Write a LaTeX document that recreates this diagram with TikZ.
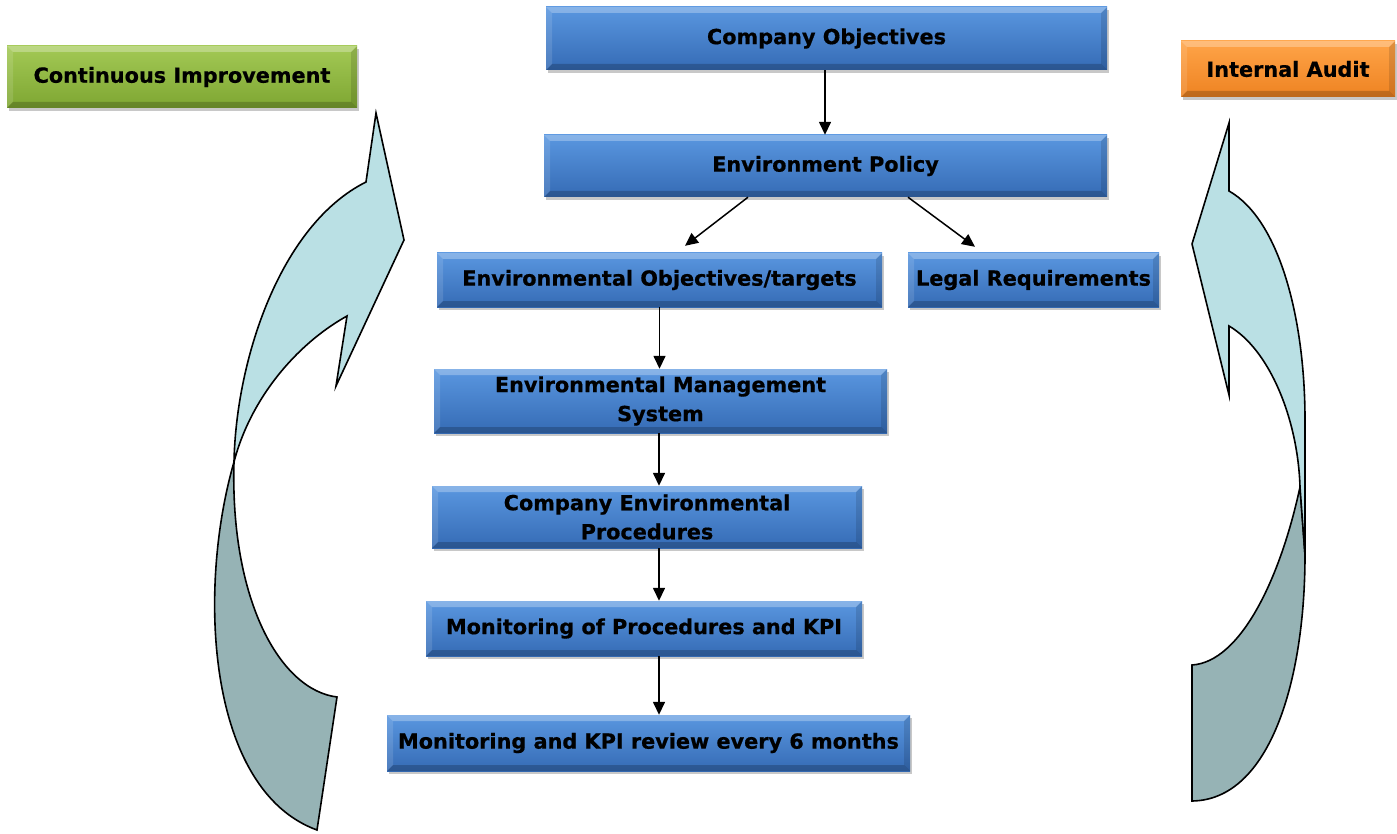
\documentclass[tikz,border=0pt]{standalone}
\usepackage{fontspec}
\setmainfont{DejaVu Sans}
\newfontfamily\boxfont{DejaVu Sans}[UprightFont=*-Bold, FakeBold=0.6]
\usetikzlibrary{arrows.meta,shadows,calc}
\definecolor{blueT}{HTML}{5A97E0}
\definecolor{blueB}{HTML}{356BB5}
\definecolor{greenT}{HTML}{A3C955}
\definecolor{greenB}{HTML}{7EA632}
\definecolor{orangeT}{HTML}{FFA448}
\definecolor{orangeB}{HTML}{EE8322}
\definecolor{ribbonL}{HTML}{BAE0E4}
\definecolor{ribbonD}{HTML}{96B3B5}
\tikzset{
  bevelbox/.style 2 args={
    inner sep=0pt, align=center, text=black,
    font=\boxfont\fontsize{20.8}{29}\selectfont,
    top color=#1, bottom color=#2, draw=none,
    drop shadow={shadow xshift=2pt, shadow yshift=-3pt, opacity=0.3, fill=black!70},
    path picture={
      \coordinate (pnw) at (path picture bounding box.north west);
      \coordinate (pne) at (path picture bounding box.north east);
      \coordinate (psw) at (path picture bounding box.south west);
      \coordinate (pse) at (path picture bounding box.south east);
      \fill[white,opacity=0.28] (pnw) -- (pne) -- ([shift={(-6pt,-6pt)}]pne) -- ([shift={(6pt,-6pt)}]pnw) -- cycle;
      \fill[white,opacity=0.12] (pnw) -- (psw) -- ([shift={(6pt,6pt)}]psw) -- ([shift={(6pt,-6pt)}]pnw) -- cycle;
      \fill[black,opacity=0.20] (psw) -- (pse) -- ([shift={(-6pt,6pt)}]pse) -- ([shift={(6pt,6pt)}]psw) -- cycle;
      \fill[black,opacity=0.12] (pne) -- (pse) -- ([shift={(-6pt,6pt)}]pse) -- ([shift={(-6pt,-6pt)}]pne) -- cycle;
    }
  },
  bluebox/.style={bevelbox={blueT}{blueB}},
  greenbox/.style={bevelbox={greenT}{greenB}},
  orangebox/.style={bevelbox={orangeT}{orangeB}},
  flow/.style={line width=1.5pt, -{Triangle[length=13pt,width=12pt]}},
  ribbon/.style={draw=black, line width=1.6pt, line join=miter}
}
\begin{document}
\begin{tikzpicture}[x=1pt,y=-1pt]
\useasboundingbox[fill=white] (0,0) rectangle (1397,834);

% left curved arrow (twisted ribbon)
\path[ribbon, fill=ribbonD] (234,462) .. controls (197,590) and (207,790) .. (317,830)
  -- (337,697) .. controls (280,690) and (230,600) .. (234,462) -- cycle;
\path[ribbon, fill=ribbonL] (376,113) -- (404,240) -- (336,386) -- (347,316)
  .. controls (295,345) and (250,400) .. (234,462)
  .. controls (236,360) and (280,225) .. (366,182) -- cycle;

% right curved arrow (twisted ribbon)
\path[ribbon, fill=ribbonD] (1300,487) .. controls (1280,580) and (1240,662) .. (1192,665)
  -- (1192,801) .. controls (1270,800) and (1305,680) .. (1305,555) -- cycle;
\path[ribbon, fill=ribbonL] (1229,123) -- (1192,244) -- (1229,395) -- (1229,326)
  .. controls (1270,350) and (1298,420) .. (1300,487) -- (1305,555) -- (1305,420)
  .. controls (1305,320) and (1280,220) .. (1229,191) -- cycle;

% boxes
\node[greenbox, minimum width=350pt, minimum height=62pt] (ci) at (182,77) {Continuous Improvement};
\node[orangebox, minimum width=214pt, minimum height=56pt] (ia) at (1288,69) {Internal Audit};

\node[bluebox, minimum width=561pt, minimum height=63pt] (co) at (826.5,38.5) {Company Objectives};
\node[bluebox, minimum width=563pt, minimum height=62pt] (ep) at (825.5,166) {Environment Policy};
\node[bluebox, minimum width=445pt, minimum height=54pt] (eo) at (659.5,280) {Environmental Objectives/targets};
\node[bluebox, minimum width=251pt, minimum height=54pt] (lr) at (1033.5,280) {Legal Requirements};
\node[bluebox, minimum width=453pt, minimum height=64pt] (ems) at (660.5,401) {Environmental Management\\System};
\node[bluebox, minimum width=430pt, minimum height=62pt] (cep) at (647,517) {Company Environmental\\Procedures};
\node[bluebox, minimum width=436pt, minimum height=55pt] (mp) at (644,628.5) {Monitoring of Procedures and KPI};
\node[bluebox, minimum width=523pt, minimum height=56pt] (mk) at (648.5,743) {Monitoring and KPI review every 6 months};

% connectors
\draw[flow] ([xshift=-1.5pt]co.south) -- ([xshift=-1.5pt]co.south |- ep.north);
\draw[flow] ([xshift=-77.5pt]ep.south) -- ([xshift=25.5pt,yshift=7pt]eo.north);
\draw[flow] ([xshift=82.5pt]ep.south) -- ([xshift=-58.5pt,yshift=6pt]lr.north);
\draw[flow] (eo.south) -- (eo.south |- ems.north);
\draw[flow] ([xshift=-1.5pt]ems.south) -- ([xshift=-1.5pt]ems.south |- cep.north);
\draw[flow] ([xshift=12pt]cep.south) -- ([xshift=12pt]cep.south |- mp.north);
\draw[flow] ([xshift=15pt]mp.south) -- ([xshift=15pt]mp.south |- mk.north);
\end{tikzpicture}
\end{document}
